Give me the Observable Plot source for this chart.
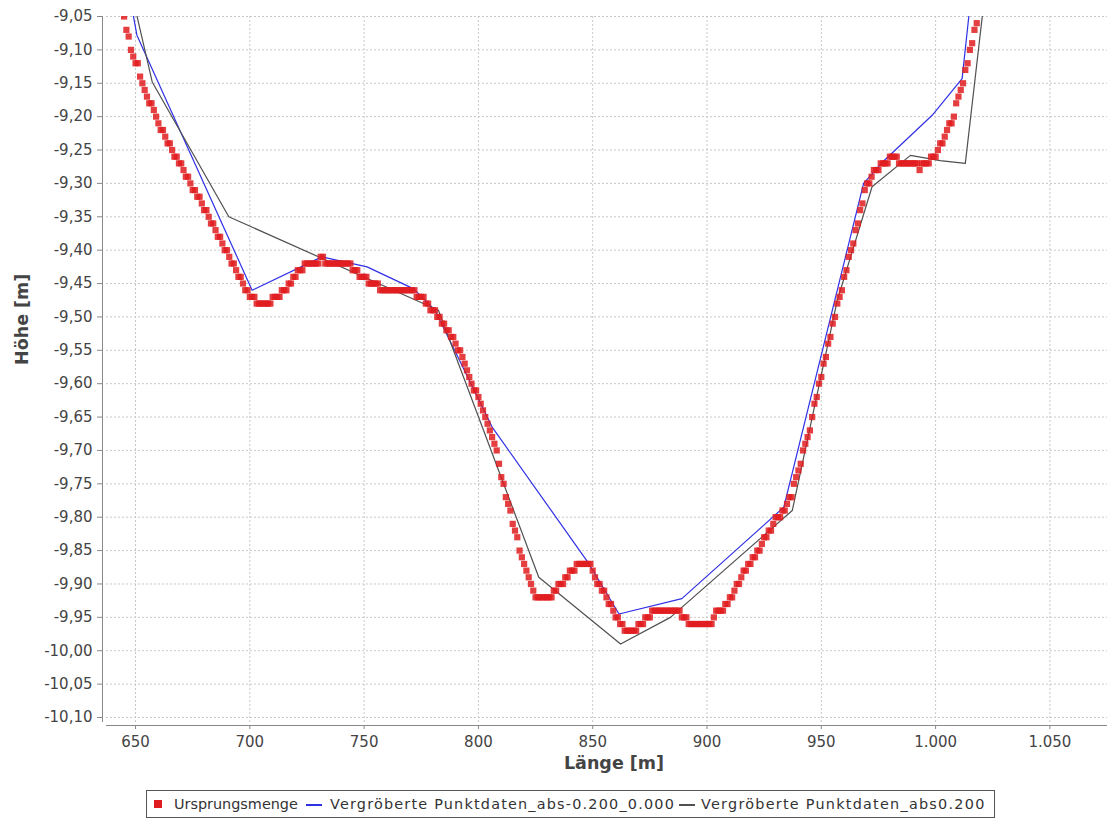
<!DOCTYPE html>
<html>
<head>
<meta charset="utf-8">
<script src="https://cdn.jsdelivr.net/npm/d3@7"></script>
<script src="https://cdn.jsdelivr.net/npm/@observablehq/plot@0.6"></script>
<style>
  body { margin: 0; background: #fff; font-family: "DejaVu Sans", sans-serif; }
  #legend { position: relative; margin-top: 8px; margin-left: 146px; width: 847px; height: 26px;
            border: 1px solid #555; box-sizing: content-box; font-size: 14.4px; color: #333; }
  #legend .it { position: absolute; top: 0; height: 26px; line-height: 26px; white-space: nowrap; }
  #legend .sq { position: absolute; top: 9px; width: 8px; height: 8px; }
  #legend .ln { position: absolute; top: 13px; width: 16px; height: 1.5px; }
</style>
</head>
<body>
<div id="chart"></div>
<script>
// ---- data ----
const seriesNames = ["Ursprungsmenge", "Vergröberte Punktdaten_abs-0.200_0.000", "Vergröberte Punktdaten_abs0.200"];

const ursprungLaenge = [
  645,646,647,648,649,650,651,652,653,654,
  655,656,657,658,659,660,661,662,663,664,
  665,666,667,668,669,670,671,672,673,674,
  675,676,677,678,679,680,681,682,683,684,
  685,686,687,688,689,690,691,692,693,694,
  695,696,697,698,699,700,701,702,703,704,
  705,706,707,708,709,710,711,712,713,714,
  715,716,717,718,719,720,721,722,723,724,
  725,726,727,728,729,730,731,732,733,734,
  735,736,737,738,739,740,741,742,743,744,
  745,746,747,748,749,750,751,752,753,754,
  755,756,757,758,759,760,761,762,763,764,
  765,766,767,768,769,770,771,772,773,774,
  775,776,777,778,779,780,781,782,783,784,
  785,786,787,788,789,790,791,792,793,794,
  795,796,797,798,799,800,801,802,803,804,
  805,806,807,808,809,810,811,812,813,814,
  815,816,817,818,819,820,821,822,823,824,
  825,826,827,828,829,830,831,832,833,834,
  835,836,837,838,839,840,841,842,843,844,
  845,846,847,848,849,850,851,852,853,854,
  855,856,857,858,859,860,861,862,863,864,
  865,866,867,868,869,870,871,872,873,874,
  875,876,877,878,879,880,881,882,883,884,
  885,886,887,888,889,890,891,892,893,894,
  895,896,897,898,899,900,901,902,903,904,
  905,906,907,908,909,910,911,912,913,914,
  915,916,917,918,919,920,921,922,923,924,
  925,926,927,928,929,930,931,932,933,934,
  935,936,937,938,939,940,941,942,943,944,
  945,946,947,948,949,950,951,952,953,954,
  955,956,957,958,959,960,961,962,963,964,
  965,966,967,968,969,970,971,972,973,974,
  975,976,977,978,979,980,981,982,983,984,
  985,986,987,988,989,990,991,992,993,994,
  995,996,997,998,999,1000,1001,1002,1003,1004,
  1005,1006,1007,1008,1009,1010,1011,1012,1013,1014,
  1015,1016,1017,1018
];
const ursprungHoehe = [
  -9.05,-9.07,-9.08,-9.10,-9.11,-9.12,-9.12,-9.14,-9.15,-9.16,
  -9.17,-9.18,-9.18,-9.19,-9.20,-9.21,-9.22,-9.22,-9.23,-9.24,
  -9.24,-9.25,-9.26,-9.26,-9.27,-9.27,-9.28,-9.29,-9.29,-9.30,
  -9.31,-9.31,-9.32,-9.32,-9.33,-9.34,-9.34,-9.35,-9.36,-9.36,
  -9.37,-9.38,-9.38,-9.39,-9.40,-9.40,-9.41,-9.42,-9.42,-9.43,
  -9.44,-9.44,-9.45,-9.46,-9.46,-9.47,-9.47,-9.47,-9.48,-9.48,
  -9.48,-9.48,-9.48,-9.48,-9.48,-9.47,-9.47,-9.47,-9.47,-9.46,
  -9.46,-9.46,-9.45,-9.45,-9.44,-9.44,-9.43,-9.43,-9.43,-9.42,
  -9.42,-9.42,-9.42,-9.42,-9.42,-9.42,-9.41,-9.41,-9.42,-9.42,
  -9.42,-9.42,-9.42,-9.42,-9.42,-9.42,-9.42,-9.42,-9.42,-9.42,
  -9.43,-9.43,-9.43,-9.44,-9.44,-9.44,-9.44,-9.45,-9.45,-9.45,
  -9.45,-9.45,-9.46,-9.46,-9.46,-9.46,-9.46,-9.46,-9.46,-9.46,
  -9.46,-9.46,-9.46,-9.46,-9.46,-9.46,-9.46,-9.46,-9.47,-9.47,
  -9.47,-9.47,-9.48,-9.48,-9.49,-9.49,-9.49,-9.50,-9.50,-9.51,
  -9.51,-9.52,-9.52,-9.53,-9.53,-9.54,-9.55,-9.55,-9.56,-9.57,
  -9.58,-9.59,-9.60,-9.61,-9.61,-9.62,-9.63,-9.64,-9.65,-9.66,
  -9.67,-9.68,-9.69,-9.70,-9.72,-9.74,-9.75,-9.77,-9.78,-9.79,
  -9.81,-9.82,-9.83,-9.85,-9.86,-9.87,-9.88,-9.89,-9.90,-9.91,
  -9.92,-9.92,-9.92,-9.92,-9.92,-9.92,-9.92,-9.92,-9.91,-9.91,
  -9.90,-9.90,-9.90,-9.89,-9.89,-9.88,-9.88,-9.88,-9.87,-9.87,
  -9.87,-9.87,-9.87,-9.87,-9.87,-9.88,-9.89,-9.90,-9.90,-9.91,
  -9.91,-9.92,-9.93,-9.93,-9.94,-9.95,-9.95,-9.96,-9.96,-9.97,
  -9.97,-9.97,-9.97,-9.97,-9.97,-9.96,-9.96,-9.96,-9.95,-9.95,
  -9.95,-9.94,-9.94,-9.94,-9.94,-9.94,-9.94,-9.94,-9.94,-9.94,
  -9.94,-9.94,-9.94,-9.94,-9.95,-9.95,-9.95,-9.96,-9.96,-9.96,
  -9.96,-9.96,-9.96,-9.96,-9.96,-9.96,-9.96,-9.96,-9.95,-9.94,
  -9.94,-9.94,-9.94,-9.93,-9.93,-9.92,-9.92,-9.91,-9.90,-9.90,
  -9.89,-9.88,-9.88,-9.87,-9.87,-9.86,-9.86,-9.85,-9.85,-9.84,
  -9.83,-9.83,-9.82,-9.82,-9.81,-9.80,-9.80,-9.80,-9.79,-9.79,
  -9.78,-9.77,-9.77,-9.75,-9.74,-9.73,-9.72,-9.70,-9.69,-9.68,
  -9.67,-9.65,-9.63,-9.62,-9.60,-9.59,-9.57,-9.56,-9.54,-9.53,
  -9.51,-9.50,-9.48,-9.47,-9.46,-9.44,-9.43,-9.41,-9.40,-9.39,
  -9.37,-9.36,-9.34,-9.33,-9.31,-9.30,-9.30,-9.29,-9.28,-9.28,
  -9.28,-9.27,-9.27,-9.27,-9.27,-9.26,-9.26,-9.26,-9.26,-9.27,
  -9.27,-9.27,-9.27,-9.27,-9.27,-9.27,-9.27,-9.27,-9.28,-9.27,
  -9.27,-9.27,-9.27,-9.26,-9.26,-9.26,-9.25,-9.24,-9.24,-9.23,
  -9.22,-9.21,-9.21,-9.20,-9.18,-9.17,-9.16,-9.15,-9.13,-9.12,
  -9.10,-9.09,-9.07,-9.06
];

const blauLaenge = [646.4, 650.6, 701, 731.5, 751.3, 771.7, 781, 806, 848, 861.5, 889, 933.6, 968.5, 977.4, 998.5, 1011.6, 1016.1];
const blauHoehe  = [-9.00, -9.078, -9.46, -9.41, -9.425, -9.458, -9.49, -9.665, -9.868, -9.945, -9.922, -9.785, -9.30, -9.266, -9.198, -9.143, -9.00];

const grauLaenge = [647.3, 657.3, 690.8, 782.5, 826.4, 862.2, 884, 937.3, 957, 972.2, 989, 1002, 1013, 1022.1];
const grauHoehe  = [-9.00, -9.148, -9.35, -9.49, -9.89, -9.99, -9.95, -9.79, -9.475, -9.305, -9.258, -9.266, -9.27, -9.00];

const xTicks = [650, 700, 750, 800, 850, 900, 950, 1000, 1050];
const yTicks = [-10.10, -10.05, -10.00, -9.95, -9.90, -9.85, -9.80, -9.75, -9.70, -9.65, -9.60, -9.55,
                -9.50, -9.45, -9.40, -9.35, -9.30, -9.25, -9.20, -9.15, -9.10, -9.05];
const xDomain = [637.3, 1075.2];
const yDomain = [-10.1075, -9.05];

// ---- build ----
const locale = d3.formatLocale({decimal: ",", thousands: ".", grouping: [3], currency: ["", " €"], minus: "-"});
const fmtY = locale.format(",.2f");
const fmtX = locale.format(",d");

const ursprung = ursprungLaenge.map((x, i) => ({x, y: ursprungHoehe[i]}));
const blau = blauLaenge.map((x, i) => ({x, y: blauHoehe[i]}));
const grau = grauLaenge.map((x, i) => ({x, y: grauHoehe[i]}));

const gridStyle = {stroke: "#c8c8c8", strokeOpacity: 1, strokeDasharray: "2,2", strokeWidth: 1};

const chart = Plot.plot({
  width: 1107,
  height: 782,
  marginTop: 16,
  marginLeft: 102,
  marginRight: 0,
  marginBottom: 57,
  style: {fontFamily: "DejaVu Sans, sans-serif", fontSize: "15px", background: "#fff", overflow: "visible"},
  x: {domain: xDomain, insetLeft: 4},
  y: {domain: yDomain, insetBottom: 3},
  marks: [
    Plot.gridX(xTicks, {...gridStyle, insetBottom: 3}),
    Plot.gridY(yTicks, {...gridStyle, insetLeft: 4}),
    Plot.frame({anchor: "left", stroke: "#888", insetBottom: 4}),
    Plot.frame({anchor: "bottom", stroke: "#888", insetLeft: 4}),
    Plot.axisX(xTicks, {anchor: "bottom", tickSize: 4, tickPadding: 7, tickFormat: fmtX, label: null,
                        stroke: "#888", fill: "#444", fontSize: 15}),
    Plot.axisY(yTicks, {anchor: "left", tickSize: 5, tickPadding: 5, tickFormat: fmtY, label: null,
                        stroke: "#888", fill: "#444", fontSize: 15}),
    Plot.line(blau, {x: "x", y: "y", stroke: "#3030e6", strokeWidth: 1.2, clip: true}),
    Plot.line(grau, {x: "x", y: "y", stroke: "#505050", strokeWidth: 1.2, clip: true}),
    Plot.dot(ursprung, {x: "x", y: "y", symbol: "square", r: 3.5, fill: "#e01c20", fillOpacity: 0.85, stroke: "none", clip: true}),
    Plot.text(["Länge [m]"], {frameAnchor: "bottom", dy: 43, dx: 9, fontSize: 17.5, fontWeight: "bold", fill: "#444"}),
    Plot.text(["Höhe [m]"], {frameAnchor: "left", rotate: -90, dx: -80, dy: -6, fontSize: 17.5, fontWeight: "bold", fill: "#444"})
  ]
});
document.getElementById("chart").appendChild(chart);

// ---- legend (HTML, below the SVG) ----
const legend = document.createElement("div");
legend.id = "legend";
const legendItems = [
  {name: seriesNames[0], kind: "sq", color: "#e01c20", keyLeft: 7, textLeft: 27, spacing: 0},
  {name: seriesNames[1], kind: "ln", color: "#3030e6", keyLeft: 159, textLeft: 183, spacing: 1.2},
  {name: seriesNames[2], kind: "ln", color: "#505050", keyLeft: 532, textLeft: 554, spacing: 1.25}
];
for (const it of legendItems) {
  const key = document.createElement("div");
  key.className = it.kind;
  key.style.left = it.keyLeft + "px";
  key.style.background = it.color;
  legend.appendChild(key);
  const t = document.createElement("div");
  t.className = "it";
  t.style.left = it.textLeft + "px";
  t.style.letterSpacing = it.spacing + "px";
  t.textContent = it.name;
  legend.appendChild(t);
}
document.body.appendChild(legend);
</script>
</body>
</html>
